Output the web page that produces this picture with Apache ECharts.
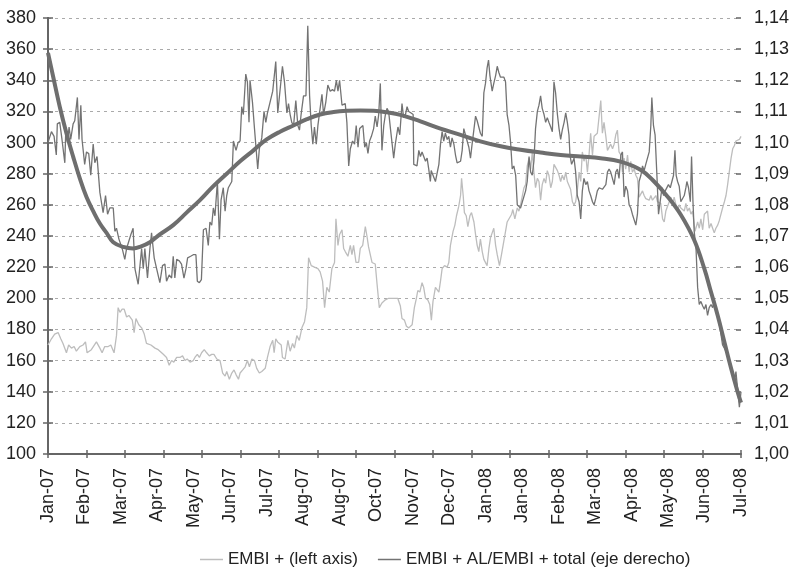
<!DOCTYPE html>
<html>
<head>
<meta charset="utf-8">
<title>EMBI+</title>
<script src="https://cdn.jsdelivr.net/npm/echarts@6/dist/echarts.min.js"></script>
<style>
  html, body { margin: 0; padding: 0; background: #fff; }
  #chart { width: 789px; height: 569px; }
</style>
</head>
<body>
<div id="chart"></div>
<script>
// x = trading day since 2 Jan 2007 (0..342); a label every 18 days, a tick every 19
const monthLabels = ['Jan-07', 'Feb-07', 'Mar-07', 'Apr-07', 'May-07', 'Jun-07', 'Jul-07',
  'Aug-07', 'Aug-07', 'Oct-07', 'Nov-07', 'Dec-07', 'Jan-08', 'Jan-08', 'Feb-08',
  'Mar-08', 'Apr-08', 'May-08', 'Jun-08', 'Jul-08'];

// EMBI + (left axis), basis points
const embiLeft = [
  [0, 170], [1.7, 174], [3.3, 177], [5.0, 178], [6.3, 174], [7.4, 171], [9.1, 165], [10.2, 170],
  [11.6, 168], [12.9, 169], [14.0, 166], [15.7, 169], [17.3, 170], [18.5, 172], [19.3, 165],
  [21.4, 167], [23.9, 172], [25.6, 168], [26.7, 165], [28.0, 169], [29.7, 169], [31.0, 170],
  [32.6, 165], [33.8, 176], [34.6, 194], [35.5, 191], [36.6, 193], [37.6, 193], [38.8, 188],
  [39.9, 189], [41.6, 186], [42.5, 178], [43.4, 187], [44.8, 183], [46.2, 181], [47.5, 177],
  [48.6, 171], [50.8, 170], [52.8, 168], [54.4, 167], [56.9, 164], [58.5, 162], [59.8, 157],
  [61.0, 160], [62.1, 159], [63.5, 162], [65.1, 162], [66.4, 163], [67.6, 160], [68.7, 161],
  [70.1, 159], [71.7, 160], [72.5, 162], [73.7, 164], [74.7, 162], [75.8, 165], [77.1, 167],
  [78.3, 165], [79.6, 163], [80.8, 164], [81.9, 164], [83.3, 161], [84.9, 160], [86.2, 152],
  [87.4, 150], [88.2, 153], [89.5, 148], [90.7, 152], [91.8, 154], [92.8, 151], [94.0, 148],
  [94.8, 152], [96.1, 154], [97.3, 156], [98.4, 160], [99.4, 156], [100.6, 161], [101.9, 160],
  [103.0, 155], [104.3, 152], [105.5, 153], [107.2, 155], [108.3, 162], [109.6, 169],
  [110.9, 173], [111.6, 165], [112.4, 174], [113.3, 172], [115.1, 170], [115.7, 162],
  [117.0, 161], [118.4, 173], [119.5, 166], [120.7, 171], [121.6, 168], [122.8, 176],
  [124.0, 173], [125.3, 181], [126.6, 185], [127.7, 194], [128.6, 226], [129.9, 221],
  [131.5, 220], [133.2, 219], [134.3, 217], [135.5, 211], [136.5, 194], [137.6, 207],
  [138.8, 204], [140.1, 219], [141.4, 223], [142.1, 251], [143.1, 234], [143.9, 241],
  [145.1, 244], [145.9, 232], [146.7, 230], [148.0, 227], [149.2, 234], [150.0, 228],
  [150.8, 234], [152.0, 223], [153.3, 223], [154.1, 232], [155.3, 234], [156.6, 246],
  [157.4, 240], [158.2, 233], [159.9, 223], [161.5, 222], [162.4, 209], [163.5, 194],
  [164.8, 197], [166.5, 199], [168.1, 200], [172.6, 200], [173.9, 195], [174.7, 187],
  [175.9, 186], [176.9, 182], [178.0, 181], [179.7, 183], [180.8, 194], [181.8, 200],
  [182.5, 205], [183.5, 204], [184.6, 210], [185.4, 207], [186.3, 200], [187.4, 199],
  [188.4, 196], [189.2, 186], [190.0, 198], [191.2, 207], [192.0, 208], [192.9, 204],
  [193.7, 211], [194.5, 219], [195.7, 221], [197.0, 220], [197.8, 223], [198.6, 234],
  [199.9, 243], [200.8, 247], [201.6, 253], [202.7, 259], [203.6, 266], [204.1, 277],
  [204.9, 266], [205.5, 255], [206.4, 253], [207.2, 246], [208.2, 253], [209.0, 255],
  [210.2, 249], [211.0, 241], [211.8, 234], [212.6, 230], [213.4, 238], [214.3, 230],
  [215.1, 225], [215.9, 224], [216.7, 221], [217.6, 232], [218.4, 239], [219.2, 242],
  [220.0, 245], [220.9, 234], [221.7, 228], [222.8, 221], [223.8, 228], [225.0, 237],
  [225.8, 243], [226.6, 249], [227.5, 250], [228.8, 254], [229.4, 257], [230.4, 251],
  [231.6, 258], [232.4, 256], [233.2, 260], [234.1, 261], [234.9, 271], [235.7, 273],
  [236.5, 285], [237.4, 290], [238.2, 283], [239.0, 294], [239.8, 281], [240.6, 271],
  [241.5, 277], [242.3, 275], [243.1, 263], [243.9, 273], [244.8, 277], [245.6, 274],
  [246.4, 282], [247.2, 279], [248.1, 271], [248.9, 275], [249.7, 286], [250.5, 286],
  [251.4, 282], [252.2, 279], [253.0, 275], [253.8, 279], [254.7, 276], [255.5, 281],
  [256.3, 275], [257.1, 276], [257.9, 270], [258.8, 262], [259.6, 260], [260.4, 262],
  [261.2, 269], [262.1, 281], [262.9, 275], [263.7, 294], [264.5, 288], [265.4, 292],
  [266.2, 281], [267.0, 292], [267.8, 306], [268.7, 292], [269.5, 304], [270.3, 304],
  [271.1, 306], [272.0, 307], [272.8, 327], [273.6, 306], [274.4, 313], [275.3, 304],
  [276.1, 295], [276.9, 295], [277.7, 299], [278.6, 296], [279.4, 299], [280.2, 305],
  [281.0, 308], [281.8, 294], [282.7, 292], [283.5, 281], [284.3, 290], [285.1, 283],
  [286.0, 292], [286.8, 281], [287.6, 288], [288.4, 281], [289.3, 283], [290.1, 279],
  [290.9, 277], [291.7, 265], [292.6, 265], [293.4, 269], [294.2, 266], [295.0, 264],
  [295.9, 265], [296.7, 263], [297.5, 266], [298.3, 263], [299.1, 262], [300.0, 266],
  [300.8, 262], [301.6, 261], [302.4, 261], [303.3, 251], [304.1, 249], [304.9, 256],
  [305.7, 259], [306.6, 262], [307.4, 265], [308.2, 260], [309.0, 265], [309.9, 260],
  [310.7, 256], [311.5, 260], [312.3, 258], [313.2, 259], [314.0, 256], [314.8, 261],
  [315.6, 256], [316.5, 258], [317.3, 254], [318.1, 256], [319.3, 243], [320.6, 249],
  [321.4, 245], [322.2, 251], [323.1, 244], [323.9, 254], [324.7, 255], [325.5, 256],
  [326.3, 245], [327.2, 248], [328.0, 245], [328.8, 242], [329.6, 245], [330.5, 247],
  [331.3, 250], [332.1, 251], [332.9, 258], [333.8, 262], [334.6, 266], [335.4, 273],
  [336.2, 281], [337.1, 290], [337.9, 296], [338.7, 298], [339.5, 301], [340.3, 302],
  [341.2, 302], [342.0, 304]
];

// EMBI + AL / EMBI + total (right axis)
const ratioRight = [
  [0, 1.1000], [1.7, 1.1035], [3.0, 1.1020], [4.1, 1.0960], [4.6, 1.1060], [5.8, 1.1065],
  [6.9, 1.1010], [8.3, 1.0935], [8.8, 1.1045], [9.6, 1.1000], [10.4, 1.1050], [11.2, 1.1010],
  [12.4, 1.1060], [13.2, 1.1070], [14.5, 1.1145], [15.3, 1.1010], [16.2, 1.1120], [16.8, 1.1010],
  [18.1, 1.0930], [19.0, 1.0970], [20.1, 1.0965], [21.1, 1.0895], [22.3, 1.0995], [23.1, 1.0935],
  [24.2, 1.0955], [25.6, 1.0840], [27.2, 1.0775], [28.4, 1.0830], [29.4, 1.0770], [30.5, 1.0790],
  [32.2, 1.0790], [33.0, 1.0715], [33.8, 1.0725], [35.0, 1.0690], [36.6, 1.0660], [37.9, 1.0625],
  [38.8, 1.0660], [40.9, 1.0705], [42.0, 1.0725], [42.9, 1.0595], [44.5, 1.0545], [46.2, 1.0660],
  [47.0, 1.0595], [47.8, 1.0660], [49.1, 1.0565], [50.3, 1.0660], [51.1, 1.0710], [52.4, 1.0630],
  [53.6, 1.0595], [55.2, 1.0550], [56.5, 1.0605], [57.7, 1.0610], [58.5, 1.0555], [59.8, 1.0575],
  [61.0, 1.0565], [61.8, 1.0635], [62.6, 1.0565], [63.5, 1.0625], [64.8, 1.0620], [65.9, 1.0610],
  [67.1, 1.0565], [68.1, 1.0595], [68.9, 1.0630], [70.4, 1.0635], [71.7, 1.0640], [73.0, 1.0640],
  [73.7, 1.0555], [74.7, 1.0550], [75.7, 1.0560], [76.7, 1.0720], [78.0, 1.0725], [79.1, 1.0670],
  [79.9, 1.0745], [80.8, 1.0735], [81.6, 1.0790], [82.4, 1.0765], [83.6, 1.0875], [84.6, 1.0690],
  [85.4, 1.0815], [86.5, 1.0855], [87.4, 1.0780], [88.2, 1.0830], [89.0, 1.0855], [89.8, 1.0855],
  [90.7, 1.0875], [91.5, 1.1005], [92.8, 1.0975], [93.8, 1.1000], [94.8, 1.1005], [95.6, 1.1115],
  [96.4, 1.1090], [97.6, 1.1220], [98.4, 1.1195], [99.2, 1.1065], [99.7, 1.1200], [100.9, 1.1130],
  [101.9, 1.1045], [102.7, 1.0980], [103.5, 1.0915], [104.3, 1.0980], [105.5, 1.1015], [106.6, 1.1100],
  [107.5, 1.1065], [108.3, 1.1095], [109.6, 1.1130], [110.9, 1.1165], [111.6, 1.1170], [112.4, 1.1260],
  [113.4, 1.1095], [114.1, 1.1100], [115.7, 1.1245], [116.7, 1.1195], [117.9, 1.1095], [118.7, 1.1125],
  [119.5, 1.1090], [120.3, 1.1065], [121.2, 1.1055], [122.3, 1.1135], [123.3, 1.1055], [124.1, 1.1040],
  [124.9, 1.1090], [126.1, 1.1150], [127.3, 1.1150], [128.2, 1.1375], [129.1, 1.1150], [129.9, 1.1055],
  [130.7, 1.0995], [131.5, 1.1050], [132.4, 1.0995], [133.2, 1.1055], [134.0, 1.1060], [135.2, 1.1155],
  [136.0, 1.1090], [137.1, 1.1130], [138.1, 1.1185], [139.3, 1.1165], [140.4, 1.1170], [141.4, 1.1165],
  [142.3, 1.1200], [143.1, 1.1165], [143.9, 1.1200], [145.1, 1.1120], [145.9, 1.1115], [146.7, 1.1125],
  [147.5, 1.1065], [148.4, 1.0925], [149.2, 1.0980], [150.3, 1.1005], [151.3, 1.0995], [152.1, 1.1055],
  [153.0, 1.0985], [153.8, 1.1045], [154.6, 1.1045], [155.4, 1.1055], [156.3, 1.0985], [157.1, 1.1000],
  [157.9, 1.0965], [158.7, 1.1005], [159.6, 1.1020], [160.7, 1.1045], [161.5, 1.1085], [162.4, 1.1050],
  [163.2, 1.1090], [164.0, 1.1190], [164.8, 1.0975], [165.7, 1.1055], [166.5, 1.1090], [167.3, 1.1110],
  [168.1, 1.1100], [169.0, 1.1045], [169.8, 1.1040], [170.6, 1.0950], [171.4, 1.0995], [172.2, 1.0995],
  [172.7, 1.1050], [173.6, 1.1025], [174.7, 1.1125], [175.5, 1.1080], [176.4, 1.1090], [177.2, 1.1115],
  [178.0, 1.1100], [179.2, 1.1095], [180.2, 1.1090], [180.5, 1.0930], [181.3, 1.0930], [182.1, 1.0925],
  [183.0, 1.0975], [183.8, 1.0955], [184.6, 1.0970], [185.4, 1.0965], [186.3, 1.0940], [187.1, 1.0950],
  [187.9, 1.0915], [188.7, 1.0875], [189.1, 1.0910], [190.0, 1.0905], [191.2, 1.0875], [192.0, 1.0870],
  [192.9, 1.0930], [193.7, 1.0995], [194.5, 1.1035], [195.3, 1.1005], [196.1, 1.1030], [197.0, 1.1010],
  [197.8, 1.1020], [198.6, 1.0985], [199.4, 1.1015], [200.3, 1.0995], [201.1, 1.0960], [201.9, 1.0935],
  [202.7, 1.0930], [203.6, 1.0940], [204.4, 1.0975], [205.2, 1.1045], [206.0, 1.1025], [206.9, 1.1020],
  [207.7, 1.0985], [208.5, 1.0950], [209.3, 1.0995], [210.2, 1.0990], [211.0, 1.1085], [211.8, 1.1070],
  [212.6, 1.1065], [213.4, 1.1030], [214.3, 1.1020], [215.1, 1.1160], [215.9, 1.1190], [216.7, 1.1240],
  [217.4, 1.1265], [218.1, 1.1215], [219.2, 1.1165], [220.0, 1.1190], [220.9, 1.1215], [221.7, 1.1245],
  [222.5, 1.1225], [223.3, 1.1210], [224.2, 1.1215], [225.0, 1.1210], [225.8, 1.1195], [226.6, 1.1090],
  [227.5, 1.1055], [228.3, 1.1000], [229.1, 1.0915], [229.9, 1.0925], [230.8, 1.0895], [231.6, 1.0800],
  [232.4, 1.0795], [233.2, 1.0790], [234.1, 1.0810], [234.9, 1.0805], [235.7, 1.0845], [236.5, 1.0875],
  [237.4, 1.0955], [238.2, 1.0905], [239.0, 1.0895], [239.8, 1.0940], [240.6, 1.1045], [241.5, 1.1100],
  [242.3, 1.1120], [243.1, 1.1150], [243.9, 1.1110], [244.8, 1.1090], [245.6, 1.1065], [246.4, 1.1080],
  [247.2, 1.1065], [248.1, 1.1050], [248.9, 1.1035], [249.7, 1.1195], [250.5, 1.1160], [251.4, 1.1090],
  [252.2, 1.1045], [253.0, 1.1010], [253.8, 1.1040], [254.7, 1.1065], [255.5, 1.1095], [256.3, 1.1065],
  [257.1, 1.1025], [257.6, 1.0960], [258.4, 1.0930], [259.6, 1.0950], [260.4, 1.0905], [261.2, 1.0830],
  [262.1, 1.0810], [262.9, 1.0755], [263.7, 1.0845], [264.5, 1.0885], [265.4, 1.0865], [266.2, 1.0875],
  [267.0, 1.0845], [267.8, 1.0830], [268.7, 1.0810], [269.5, 1.0800], [270.3, 1.0820], [271.1, 1.0845],
  [272.0, 1.0855], [272.8, 1.0860], [273.6, 1.0850], [274.4, 1.0845], [275.3, 1.0865], [276.1, 1.0905],
  [276.9, 1.0915], [277.7, 1.0905], [278.6, 1.0910], [279.4, 1.0865], [280.2, 1.0905], [281.0, 1.0915],
  [281.8, 1.0885], [282.7, 1.0960], [283.5, 1.0970], [284.3, 1.0825], [285.1, 1.0860], [286.0, 1.0845],
  [286.8, 1.0800], [287.6, 1.0790], [288.4, 1.0770], [289.3, 1.0770], [290.1, 1.0735], [290.9, 1.0770],
  [291.7, 1.0875], [292.6, 1.0895], [293.4, 1.0925], [294.2, 1.0910], [295.0, 1.0930], [295.9, 1.0925],
  [296.7, 1.0970], [297.5, 1.1055], [298.0, 1.1145], [298.8, 1.1055], [299.6, 1.1025], [300.5, 1.0895],
  [301.3, 1.0770], [302.1, 1.0770], [303.0, 1.0855], [303.8, 1.0830], [304.6, 1.0845], [305.4, 1.0850],
  [306.2, 1.0865], [307.1, 1.0855], [307.9, 1.0860], [308.7, 1.0895], [309.4, 1.0975], [310.0, 1.0895],
  [310.7, 1.0875], [311.5, 1.0860], [312.3, 1.0810], [313.2, 1.0810], [314.0, 1.0830], [314.8, 1.0855],
  [315.3, 1.0875], [316.1, 1.0855], [317.0, 1.0810], [317.6, 1.0955], [318.3, 1.0810], [318.9, 1.0715],
  [319.8, 1.0660], [320.6, 1.0535], [321.4, 1.0480], [322.2, 1.0490], [323.1, 1.0475], [323.9, 1.0465],
  [324.7, 1.0480], [325.5, 1.0445], [326.3, 1.0470], [327.2, 1.0480], [328.0, 1.0470], [328.8, 1.0490],
  [329.6, 1.0470], [330.5, 1.0445], [331.3, 1.0415], [332.1, 1.0385], [332.9, 1.0350], [333.8, 1.0340],
  [334.6, 1.0340], [335.4, 1.0320], [336.2, 1.0295], [337.1, 1.0275], [337.9, 1.0255], [338.7, 1.0230],
  [339.5, 1.0265], [340.3, 1.0210], [341.2, 1.0150], [342.0, 1.0200]
];

// fitted trend of the ratio (right axis), read at a few points
const ratioTrend = [
  [0, 1.1288], [2.5, 1.1213], [5.8, 1.1115], [9.1, 1.1030], [12.4, 1.0955], [15.7, 1.0885],
  [19.0, 1.0825], [22.3, 1.0780], [25.6, 1.0740], [28.9, 1.0710], [32.2, 1.0680], [37.1, 1.0665],
  [42.0, 1.0660], [45.4, 1.0665], [50.3, 1.0680], [55.2, 1.0705], [61.8, 1.0735], [68.4, 1.0775],
  [75.0, 1.0815], [81.6, 1.0860], [88.2, 1.0900], [94.8, 1.0940], [101.4, 1.0975], [107.9, 1.1010],
  [114.5, 1.1035], [121.1, 1.1055], [127.8, 1.1075], [134.3, 1.1090], [140.9, 1.1098], [147.5, 1.1102],
  [154.2, 1.1103], [160.7, 1.1102], [167.3, 1.1097], [173.9, 1.1089], [183.8, 1.1068], [193.7, 1.1045],
  [203.6, 1.1025], [213.4, 1.1004], [223.4, 1.0988], [233.2, 1.0977], [243.1, 1.0968], [253.0, 1.0960],
  [262.9, 1.0955], [272.7, 1.0950], [282.6, 1.0939], [292.6, 1.0912], [299.1, 1.0875], [305.7, 1.0827],
  [312.3, 1.0768], [318.9, 1.0687], [323.9, 1.0595], [327.2, 1.0520], [330.5, 1.0445], [333.8, 1.0360],
  [337.1, 1.0275], [340.3, 1.0200], [342.0, 1.0165]
];

const TXT = { fontFamily: "'Liberation Sans', Arial, sans-serif", color: '#222' };
const AXIS = '#666';

const chart = echarts.init(document.getElementById('chart'), null, { renderer: 'canvas' });

function xBase(extra) {
  return Object.assign({
    type: 'value', min: 0, max: 342, position: 'bottom',
    axisLine: { show: false }, axisTick: { show: false },
    axisLabel: { show: false }, splitLine: { show: false }
  }, extra);
}
function yBase(extra) {
  return Object.assign({
    type: 'value', axisLine: { show: false }, axisTick: { show: false },
    axisLabel: { show: false }, splitLine: { show: false }
  }, extra);
}
const tick = { color: AXIS, width: 1.5 };

const option = {
  animation: false,
  backgroundColor: '#fff',
  grid: { left: 48, right: 48, top: 18, bottom: 115, outerBoundsMode: 'none' },
  legend: {
    left: 195, top: 546, itemGap: 20, itemWidth: 23, itemHeight: 1.5,
    data: [
      { name: 'EMBI + (left axis)', icon: 'rect' },
      { name: 'EMBI + AL/EMBI + total (eje derecho)', icon: 'rect' }
    ],
    textStyle: Object.assign({ fontSize: 17 }, TXT)
  },
  xAxis: [
    // ticks outside + inside give the crossing tick marks
    xBase({ interval: 19, axisLine: { show: true, lineStyle: { color: AXIS, width: 2 } },
      axisTick: { show: true, length: 4, lineStyle: tick } }),
    xBase({ interval: 19, axisTick: { show: true, inside: true, length: 4, lineStyle: tick } }),
    xBase({ interval: 18, axisLabel: Object.assign({
      show: true, rotate: 90, margin: 14, fontSize: 18,
      formatter: v => monthLabels[Math.round(v / 18)] || ''
    }, TXT) })
  ],
  yAxis: [
    yBase({ min: 100, max: 380, interval: 20, position: 'left',
      axisLine: { show: true, lineStyle: { color: AXIS, width: 2 } },
      axisTick: { show: true, length: 5, lineStyle: tick },
      axisLabel: Object.assign({ show: true, margin: 12, fontSize: 18 }, TXT),
      splitLine: { show: true, lineStyle: { color: '#aaa', width: 1, type: [3, 4] } } }),
    yBase({ min: 1, max: 1.14, interval: 0.01, position: 'right',
      axisLine: { show: true, lineStyle: { color: AXIS, width: 2 } },
      axisTick: { show: true, length: 5, lineStyle: tick },
      axisLabel: Object.assign({ show: true, margin: 13, fontSize: 18,
        formatter: v => v.toFixed(2).replace('.', ',') }, TXT) }),
    yBase({ min: 100, max: 380, interval: 20, position: 'left',
      axisTick: { show: true, inside: true, length: 5, lineStyle: tick } }),
    yBase({ min: 1, max: 1.14, interval: 0.01, position: 'right',
      axisTick: { show: true, inside: true, length: 5, lineStyle: tick } })
  ],
  series: [
    {
      name: 'EMBI + (left axis)', type: 'line', xAxisIndex: 0, yAxisIndex: 0,
      data: embiLeft, showSymbol: false, color: '#bdbdbd',
      lineStyle: { width: 1.3, color: '#bdbdbd' }
    },
    {
      name: 'EMBI + AL/EMBI + total (eje derecho)', type: 'line', xAxisIndex: 0, yAxisIndex: 1,
      data: ratioRight, showSymbol: false, color: '#737373',
      lineStyle: { width: 1.3, color: '#737373' }
    },
    {
      name: 'trend', type: 'line', xAxisIndex: 0, yAxisIndex: 1,
      data: ratioTrend, showSymbol: false, smooth: 0.4, color: '#6e6e6e',
      lineStyle: { width: 4, color: '#6e6e6e' }
    }
  ]
};

chart.setOption(option);
</script>
</body>
</html>
